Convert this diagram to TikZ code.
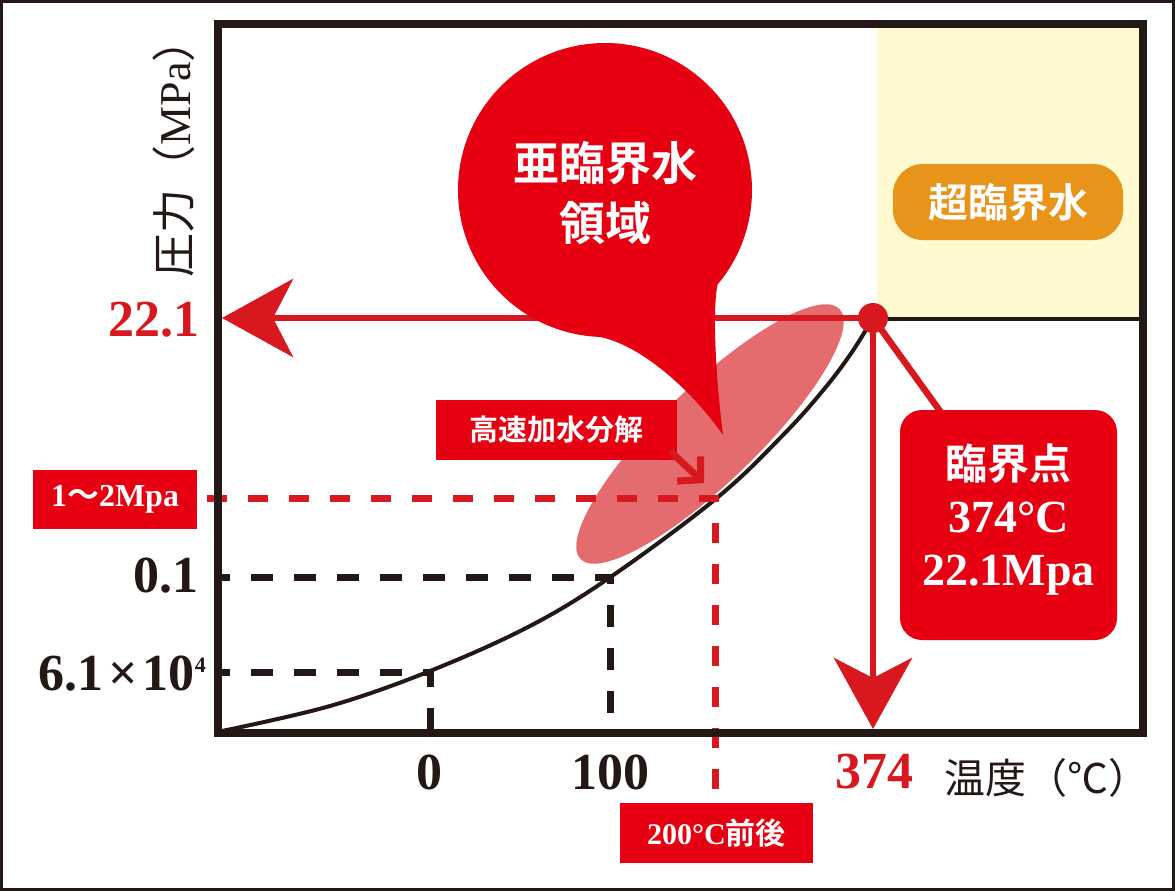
\documentclass[tikz,border=0pt]{standalone}
\usepackage{fontspec}
\setmainfont{Liberation Serif}
\newfontfamily\jp{Noto Sans CJK JP}[BoldFont={Noto Sans CJK JP Bold}]
\usetikzlibrary{arrows.meta}
\definecolor{ink}{HTML}{231815}
\definecolor{redA}{HTML}{E60012}
\definecolor{redB}{HTML}{D7181F}
\definecolor{pinkE}{HTML}{E46C6E}
\definecolor{yelF}{HTML}{FEF9CE}
\definecolor{orgB}{HTML}{E8931A}
\tikzset{
  frameline/.style={draw=ink, line width=8pt},
  blackdash/.style={draw=ink, line width=7pt, dash pattern=on 22pt off 21pt},
  reddash/.style={draw=redB, line width=7pt, dash pattern=on 20pt off 21pt},
  redarrow/.style={draw=redB, line width=6.5pt, -{Stealth[length=71pt, width=78pt, inset=20pt]}},
  redline/.style={draw=redB, line width=6.5pt},
  labbox/.style={fill=redA, text=white, inner sep=0pt},
  ticklab/.style={text=ink, font=\bfseries\fontsize{52}{56}\selectfont, inner sep=0pt},
}
\begin{document}
\begin{tikzpicture}[x=1pt,y=-1pt]
\useasboundingbox (0,0) rectangle (1175,891);
\draw[ink, line width=3pt] (1.5,1.5) rectangle (1173.5,889.5);
% supercritical region
\fill[yelF] (877,28) rectangle (1139,318);
\draw[ink, line width=4pt] (873,319) -- (1141,319);
% ellipse
\fill[pinkE, rotate around={44:(710,434)}] (710,434) ellipse [x radius=180, y radius=48];
% curve
\draw[ink, line width=4pt] plot[smooth, tension=0.6] coordinates {(222,731) (330,706) (430,671) (530,626) (612,576) (718,497) (785,433) (825,388) (852,352) (873,318)};
% black dashed guides
\coordinate (p01) at (610,577);
\coordinate (p64) at (430,672);
\draw[blackdash, dash phase=14pt] (222,577) -- (p01) -- (610,731);
\draw[blackdash, dash phase=14pt] (222,672) -- (p64) -- (430,731);
% red dashed guides
\coordinate (p12) at (715,498);
\draw[reddash] (207,498) -- (p12) -- (715,790);
% frame
\draw[frameline] (218,24) rectangle (1143,733);
% critical point arrows
\coordinate (cp) at (873,318);
\coordinate (ya) at (222,318);
\coordinate (xa) at (873,729);
\coordinate (cbl) at (950,425);
\draw[redarrow] (cp) -- (ya);
\draw[redarrow] (cp) -- (xa);
\draw[redline] (cp) -- (cbl);
\node[circle, fill=redB, minimum size=30pt, inner sep=0pt] (cpd) at (cp) {};
% bubble
\fill[redA] (717.6,284.5) arc[start angle=40, end angle=-268, radius=147]
  .. controls (640,345) and (690,388) .. (723,435)
  .. controls (716,380) and (712,310) .. (717.6,284.5) -- cycle;
\node[text=white, align=center, font=\jp\bfseries\fontsize{46}{60}\selectfont] (sub) at (605,193) {亜臨界水\\領域};
% supercritical label
\node[fill=orgB, text=white, rounded corners=30pt, minimum width=230pt, minimum height=76pt, font=\jp\bfseries\fontsize{40}{44}\selectfont] (sup) at (1008,202) {超臨界水};
% critical point box
\node[fill=redA, rounded corners=22pt, minimum width=217pt, minimum height=230pt] (cb) at (1008.5,525) {};
\node[text=white, align=center, font=\bfseries\fontsize{46}{53}\selectfont, inner sep=0pt] (cbt) at (1008.5,520) {{\jp\fontsize{42}{53}\selectfont 臨界点}\\374°C\\22.1Mpa};
% hydrolysis box and arrow
\node[labbox, minimum width=241pt, minimum height=60pt, font=\jp\bfseries\fontsize{29}{32}\selectfont] (hyd) at (556.5,430) {高速加水分解};
\coordinate (hydt) at (704,483);
\draw[draw=redB, line width=7pt, -{Straight Barb[length=16pt, width=34pt]}] (670,451) -- (hydt);
% left labels
\node[labbox, minimum width=164pt, minimum height=59pt, font=\bfseries\fontsize{32}{36}\selectfont] (mp) at (115,499.5) {1{\jp 〜}2Mpa};
\node[ticklab, text=redB, anchor=east] (l221) at (200,320) {22.1};
\node[ticklab, anchor=east] (l01) at (199,576) {0.1};
\node[ticklab, anchor=east] (l64) at (206,674) {6.1\hspace{5pt}×\hspace{5pt}10\raisebox{18pt}{\fontsize{22}{24}\selectfont 4}};
\node[text=ink, rotate=90, font=\fontsize{44}{48}\selectfont, inner sep=0pt] (ylab) at (174,148) {{\jp 圧力（}MPa{\jp ）}};
% bottom labels
\node[ticklab] (x0) at (429,772) {0};
\node[ticklab] (x100) at (610,772) {100};
\node[ticklab, text=redB] (x374) at (874,772) {374};
\node[text=ink, anchor=west, font=\jp\fontsize{41}{44}\selectfont, inner sep=0pt] (xlab) at (944,778) {温度（℃）};
\node[labbox, minimum width=193pt, minimum height=60pt, font=\bfseries\fontsize{30}{32}\selectfont] (t200) at (716.5,833) {200°C{\jp 前後}};
\end{tikzpicture}
\end{document}
